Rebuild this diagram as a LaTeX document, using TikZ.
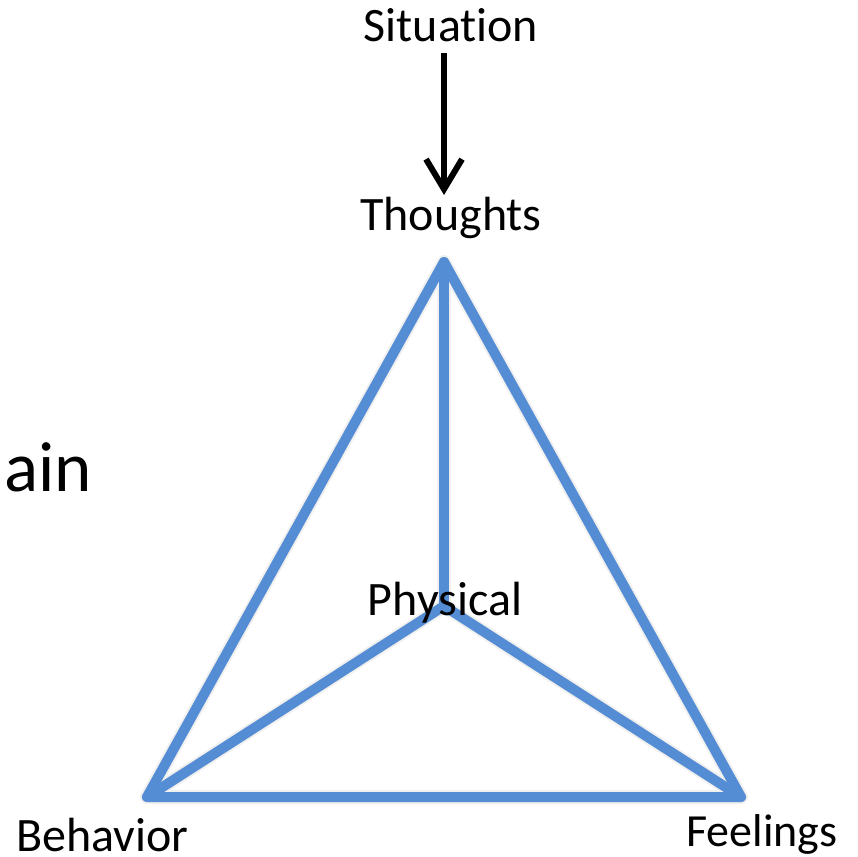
\documentclass[tikz,border=0pt]{standalone}
\usepackage{fontspec}
\setmainfont{Carlito}[Ligatures=NoCommon]
\usetikzlibrary{arrows.meta}
\definecolor{edgeblue}{RGB}{85,141,213}
\tikzset{
  lbl/.style={inner sep=0pt, font=\fontsize{48}{54}\selectfont},
  side/.style={draw=edgeblue, line width=10pt, line cap=round, line join=round},
  shade/.style={draw=black, line width=12pt, line cap=round, line join=round, opacity=0.06},
  flow/.style={draw=black, line width=6pt, -{Straight Barb[length=30pt,width=36pt]}}
}
\begin{document}
\begin{tikzpicture}[x=1pt,y=-1pt]
\useasboundingbox (0,0) rectangle (858,856);

% corners of the pyramid
\coordinate (T) at (444,262);
\coordinate (L) at (147,797);
\coordinate (R) at (741,797);
\coordinate (C) at (444,606);

% soft drop shadow under the edges
\foreach \dx/\dy/\w in {2/3/14, 3/4/10, 2/3/6} {
  \draw[shade, line width=\w pt, shift={(\dx,\dy)}]
    (T) -- (L) -- (R) -- cycle (T) -- (C) (L) -- (C) -- (R);
}

% the edges
\draw[side] (T) -- (L) -- (R) -- cycle;
\draw[side] (T) -- (C);
\draw[side] (L) -- (C) -- (R);

% labels
\node[lbl, anchor=base] (sit) at (451,42) {Situation};
\node[lbl, anchor=base] (tho) at (451,230) {Thoughts};
\node[lbl, anchor=base] (phy) at (445,615) {Physical};
\node[lbl, anchor=base west] (beh) at (16,851) {Behavior};
\node[lbl, anchor=base west, font=\fontsize{46}{52}\selectfont] (fee) at (686,846) {Feelings};
\node[inner sep=0pt, anchor=base west, font=\fontsize{71}{80}\selectfont] (ain) at (4,491) {ain};

% situation leads to thoughts
\coordinate (aS) at (444,53);
\coordinate (aE) at (444,195);
\draw[flow] (aS) -- (aE);
\end{tikzpicture}
\end{document}
